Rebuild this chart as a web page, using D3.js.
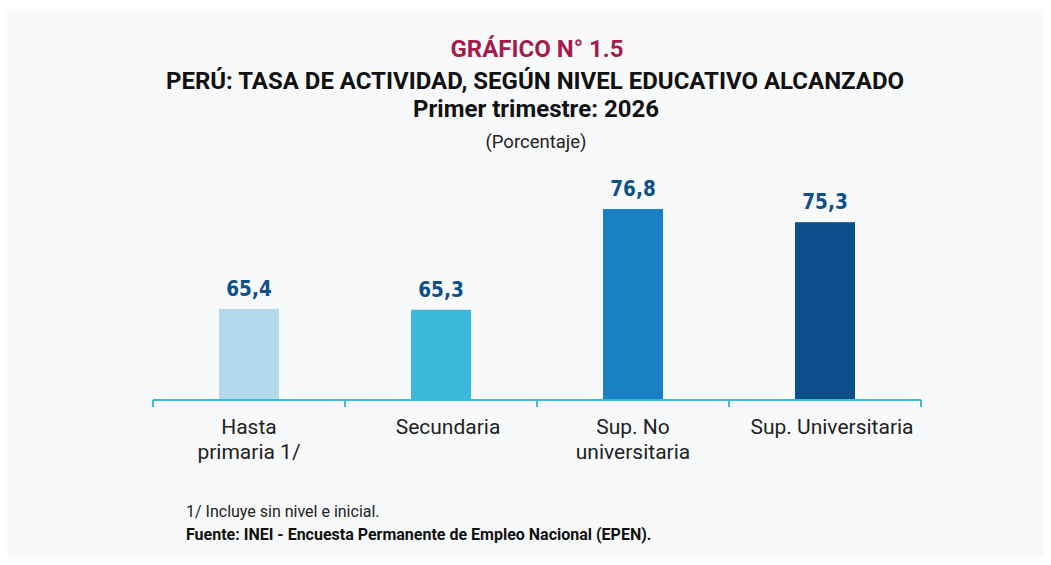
<!DOCTYPE html>
<html><head><meta charset="utf-8">
<script src="https://cdn.jsdelivr.net/npm/d3@7"></script>
<style>
html,body{margin:0;padding:0;background:#fff;}
svg{display:block;}
.val{font-family:'DejaVu Sans Condensed','DejaVu Sans',sans-serif;font-stretch:condensed;}
</style></head>
<body>
<svg id="c" width="1051" height="565"></svg>
<script>
const categories = [["Hasta","primaria 1/"],["Secundaria"],["Sup. No","universitaria"],["Sup. Universitaria"]];
const values = [65.4, 65.3, 76.8, 75.3];
const labels = ["65,4","65,3","76,8","75,3"];
const colors = ["#b5d9ec","#3bb9db","#1a80c4","#0c4f8a"];

const svg = d3.select("#c");
svg.append("rect").attr("x",7).attr("y",9).attr("width",1037).attr("height",548).attr("fill","#f8f9fb");

const ids = categories.map((d,i)=>i);
const x = d3.scaleBand().domain(ids).range([153,921]).paddingInner(0.6875).paddingOuter(0.34375);
const y = d3.scaleLinear().domain([55,80]).range([400,181]);

const font = "Roboto, 'Liberation Sans', sans-serif";
const t = svg.append("g").attr("text-anchor","middle").attr("font-family",font);
t.append("text").attr("x",537).attr("y",56.5).attr("font-size",24).attr("font-weight","bold").attr("fill","#a51c4c").text("GRÁFICO N° 1.5");
t.append("text").attr("x",535).attr("y",88.5).attr("font-size",24).attr("font-weight","bold").attr("fill","#111").text("PERÚ: TASA DE ACTIVIDAD, SEGÚN NIVEL EDUCATIVO ALCANZADO");
t.append("text").attr("x",536).attr("y",116.5).attr("font-size",24).attr("font-weight","bold").attr("fill","#111").text("Primer trimestre: 2026");
t.append("text").attr("x",536).attr("y",147.5).attr("font-size",18.5).attr("fill","#222").text("(Porcentaje)");

svg.append("g").selectAll("rect").data(values).join("rect")
  .attr("x",(d,i)=>x(i)).attr("width",x.bandwidth())
  .attr("y",d=>y(d)).attr("height",d=>y(55)-y(d))
  .attr("fill",(d,i)=>colors[i]);

svg.append("g").selectAll("text").data(values).join("text")
  .attr("class","val")
  .attr("x",(d,i)=>x(i)+x.bandwidth()/2).attr("y",d=>y(d)-13)
  .attr("text-anchor","middle")
  .attr("font-weight","bold").attr("font-size",20.5).attr("fill","#0d4f8b")
  .text((d,i)=>labels[i]);

// axis
const step = x.step();
const bounds = d3.range(categories.length+1).map(i=>153+i*step);
const ax = svg.append("g");
ax.append("line").attr("x1",153).attr("x2",921).attr("y1",400).attr("y2",400).attr("stroke","#3bb9db").attr("stroke-width",2);
ax.selectAll("line.tk").data(bounds).join("line").attr("class","tk")
  .attr("x1",d=>d).attr("x2",d=>d).attr("y1",400).attr("y2",407).attr("stroke","#3bb9db").attr("stroke-width",2);

const cl = svg.append("g").attr("font-family",font).attr("font-size",21).attr("fill","#222").attr("text-anchor","middle");
categories.forEach((lines,i)=>{
  const cx = x(i)+x.bandwidth()/2 + (lines.length===1 ? 7 : 0);
  const tx = cl.append("text").attr("x",cx).attr("y",434);
  lines.forEach((l,j)=>tx.append("tspan").attr("x",cx).attr("dy",j?25:0).text(l));
});

svg.append("text").attr("x",186).attr("y",516.5).attr("font-family",font).attr("font-size",16).attr("fill","#222").text("1/ Incluye sin nivel e inicial.");
svg.append("text").attr("x",186).attr("y",539.5).attr("font-family",font).attr("font-size",16).attr("font-weight","bold").attr("fill","#111").text("Fuente: INEI - Encuesta Permanente de Empleo Nacional (EPEN).");
</script>
</body></html>
